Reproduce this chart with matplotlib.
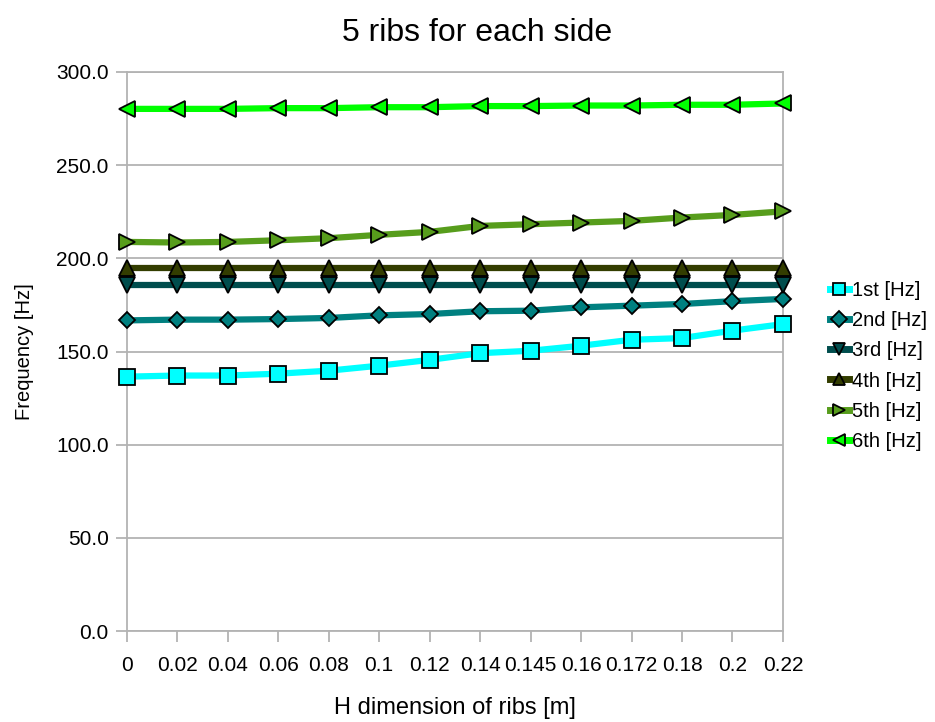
import matplotlib
matplotlib.use("Agg")
import matplotlib.pyplot as plt
import numpy as np

# Rib height categories (evenly spaced on the category axis)
h_labels = ["0", "0.02", "0.04", "0.06", "0.08", "0.1", "0.12", "0.14",
            "0.145", "0.16", "0.172", "0.18", "0.2", "0.22"]

# Natural frequencies [Hz] for each mode
f1 = [136.5, 137.1, 137.1, 138.1, 139.7, 142.4, 145.5, 149.1, 150.4, 153.1, 156.3, 157.2, 161.2, 164.7]
f2 = [166.7, 167.1, 167.1, 167.4, 168.0, 169.4, 170.1, 171.6, 171.9, 173.7, 174.6, 175.5, 177.0, 178.2]
f3 = [185.6, 185.6, 185.6, 185.6, 185.6, 185.6, 185.6, 185.6, 185.6, 185.6, 185.6, 185.6, 185.6, 185.6]
f4 = [195.0, 195.0, 195.0, 195.0, 195.0, 195.0, 195.0, 195.0, 195.0, 195.0, 195.0, 195.0, 195.0, 195.0]
f5 = [208.8, 208.5, 208.8, 209.7, 210.8, 212.6, 214.2, 217.4, 218.3, 219.2, 220.1, 221.9, 223.3, 225.2]
f6 = [280.2, 280.2, 280.2, 280.6, 280.6, 281.1, 281.1, 281.7, 281.7, 282.0, 282.0, 282.4, 282.4, 283.1]

series_names = ["1st [Hz]", "2nd [Hz]", "3rd [Hz]", "4th [Hz]", "5th [Hz]", "6th [Hz]"]
series_colors = ["#00ffff", "#008080", "#004d4d", "#333d00", "#579d1c", "#00ff00"]
series_markers = ["s", "D", "v", "^", ">", "<"]
series_sizes = [11, 8, 11, 11, 11, 11]

plt.rcParams["font.family"] = ["Liberation Sans", "DejaVu Sans"]

fig = plt.figure(figsize=(9.35, 7.22), dpi=100)
ax = fig.add_axes([0.1355, 0.126, 0.7019, 0.7743])

x = np.arange(len(h_labels))
for vals, name, col, mk, ms in zip([f1, f2, f3, f4, f5, f6], series_names,
                                   series_colors, series_markers, series_sizes):
    ax.plot(x, vals, color=col, lw=4.5, marker=mk, markersize=ms,
            markerfacecolor=col, markeredgecolor="black", markeredgewidth=1.3,
            label=name, solid_joinstyle="round", zorder=3, clip_on=False)

grid_col = "#b3b3b3"
ax.set_xlim(0, len(h_labels) - 1)
ax.set_ylim(0, 300)
ax.set_yticks(np.arange(0, 301, 50))
ax.set_yticklabels([f"{v:.1f}" for v in np.arange(0, 301, 50)], fontsize=15)
ax.set_xticks(x)
ax.set_xticklabels(h_labels, fontsize=15)
ax.yaxis.grid(True, color=grid_col, lw=1.3)
ax.set_axisbelow(True)
for sp in ax.spines.values():
    sp.set_color(grid_col)
    sp.set_linewidth(1.3)
ax.tick_params(axis="both", colors=grid_col, length=8, width=1.3,
               labelcolor="black")
ax.tick_params(axis="x", pad=10)
ax.tick_params(axis="y", pad=5)

ax.set_title("5 ribs for each side", fontsize=23, pad=22, x=0.534)
ax.set_xlabel("H dimension of ribs [m]", fontsize=17, labelpad=16)
ax.set_ylabel("Frequency [Hz]", fontsize=14.5, labelpad=16)

leg = ax.legend(loc="upper left", bbox_to_anchor=(1.06, 0.64), frameon=False,
                fontsize=14.5, handlelength=0.9, handletextpad=0.15,
                labelspacing=0.55, borderaxespad=0)
for h in leg.legend_handles:
    h.set_markersize(8)
    h.set_linewidth(5)

fig.savefig("out.png", dpi=100)
